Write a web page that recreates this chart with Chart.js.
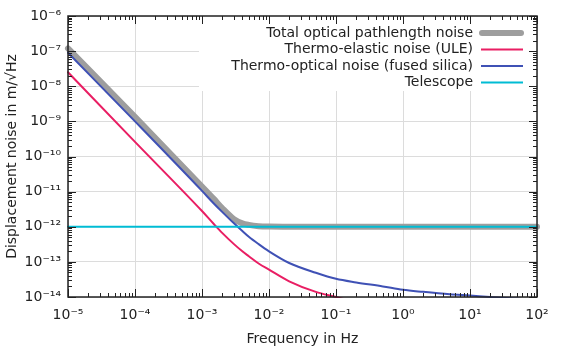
<!DOCTYPE html>
<html>
<head>
<meta charset="utf-8">
<script src="https://cdn.jsdelivr.net/npm/chart.js@4.4.0/dist/chart.umd.min.js"></script>
<style>
    html, body { margin: 0; padding: 0; background: #fff; }
    #wrap { position: relative; width: 561px; height: 351px; }
</style>
</head>
<body>
<div id="wrap"><canvas id="noiseChart" width="561" height="351"></canvas></div>
<script>
// 주파수 (Hz)
const freqs = [1e-5, 1e-4, 1e-3, 1.5e-3, 2e-3, 3e-3, 4e-3, 5e-3, 7e-3, 1e-2, 2e-2, 5e-2, 0.1, 0.2, 0.5, 1, 2, 5, 10, 20, 50, 100];

// 노이즈 (m/√Hz)
const totalNoise    = [1.2e-7, 1.35e-9, 1.4e-11, 6.2e-12, 3.4e-12, 1.65e-12, 1.25e-12, 1.13e-12, 1.04e-12, 1.01e-12, 1e-12, 1e-12, 1e-12, 1e-12, 1e-12, 1e-12, 1e-12, 1e-12, 1e-12, 1e-12, 1e-12, 1e-12];
const thermoElastic = [2.5e-8, 2.6e-10, 2.8e-12, 1.2e-12, 6.7e-13, 3.2e-13, 2.0e-13, 1.45e-13, 9e-14, 6e-14, 2.8e-14, 1.4e-14, 1.0e-14, 7e-15, null, null, null, null, null, null, null, null];
const thermoOptical = [9e-8, 1e-9, 1.05e-11, 4.6e-12, 2.65e-12, 1.25e-12, 7.6e-13, 5.2e-13, 3.2e-13, 2e-13, 9.3e-14, 4.9e-14, 3.3e-14, 2.6e-14, 2.0e-14, 1.6e-14, 1.4e-14, 1.2e-14, 1.1e-14, 1.0e-14, 9e-15, 8e-15];
const telescope     = [1e-12, 1e-12, 1e-12, 1e-12, 1e-12, 1e-12, 1e-12, 1e-12, 1e-12, 1e-12, 1e-12, 1e-12, 1e-12, 1e-12, 1e-12, 1e-12, 1e-12, 1e-12, 1e-12, 1e-12, 1e-12, 1e-12];

// 눈금
const xTicks = [1e-5, 1e-4, 1e-3, 1e-2, 1e-1, 1e0, 1e1, 1e2];
const yTicks = [1e-14, 1e-13, 1e-12, 1e-11, 1e-10, 1e-9, 1e-8, 1e-7, 1e-6];

const seriesNames = ['Total optical pathlength noise', 'Thermo-elastic noise (ULE)', 'Thermo-optical noise (fused silica)', 'Telescope'];
const seriesColors = ['#9e9e9e', '#e91e63', '#3f51b5', '#00bcd4'];

const FONT = '"DejaVu Sans", sans-serif';

function sup(v) {
    const e = Math.round(Math.log10(v));
    const map = { '-': '⁻', '0': '⁰', '1': '¹', '2': '²', '3': '³', '4': '⁴', '5': '⁵', '6': '⁶', '7': '⁷', '8': '⁸', '9': '⁹' };
    return '10' + String(e).split('').map(c => map[c]).join('');
}

function toPoints(arr) {
    return freqs.map((f, i) => ({ x: f, y: arr[i] }));
}

// 축 테두리, 안쪽 눈금, 범례
const framePlugin = {
    id: 'frame',
    beforeDatasetsDraw(chart) {
        const ctx = chart.ctx;
        const a = chart.chartArea;
        ctx.save();
        ctx.fillStyle = '#fff';
        ctx.fillRect(199, a.top, a.right - 199, 91 - a.top);
        ctx.restore();
    },
    afterDraw(chart) {
        const ctx = chart.ctx;
        const a = chart.chartArea;
        const xs = chart.scales.x, ys = chart.scales.y;
        ctx.save();
        ctx.strokeStyle = '#222';
        ctx.lineWidth = 1;
        ctx.beginPath();
        // x 눈금
        xTicks.forEach((v, i) => {
            const px = Math.round(xs.getPixelForValue(v)) + 0.5;
            ctx.moveTo(px, a.bottom); ctx.lineTo(px, a.bottom - 8);
            ctx.moveTo(px, a.top); ctx.lineTo(px, a.top + 8);
            if (i < xTicks.length - 1) {
                for (let m = 2; m <= 9; m++) {
                    const mx = Math.round(xs.getPixelForValue(v * m)) + 0.5;
                    ctx.moveTo(mx, a.bottom); ctx.lineTo(mx, a.bottom - 4);
                    ctx.moveTo(mx, a.top); ctx.lineTo(mx, a.top + 4);
                }
            }
        });
        // y 눈금
        yTicks.forEach((v, i) => {
            const py = Math.round(ys.getPixelForValue(v)) + 0.5;
            ctx.moveTo(a.left, py); ctx.lineTo(a.left + 8, py);
            ctx.moveTo(a.right, py); ctx.lineTo(a.right - 8, py);
            if (i < yTicks.length - 1) {
                for (let m = 2; m <= 9; m++) {
                    const my = Math.round(ys.getPixelForValue(v * m)) + 0.5;
                    ctx.moveTo(a.left, my); ctx.lineTo(a.left + 4, my);
                    ctx.moveTo(a.right, my); ctx.lineTo(a.right - 4, my);
                }
            }
        });
        ctx.stroke();
        ctx.lineWidth = 1.5;
        ctx.strokeRect(a.left, a.top, a.right - a.left, a.bottom - a.top);

        // 범례
        ctx.font = '14px ' + FONT;
        ctx.textAlign = 'right';
        ctx.textBaseline = 'middle';
        seriesNames.forEach((name, i) => {
            const y = 33 + i * 16.5;
            ctx.fillStyle = '#222';
            ctx.fillText(name, 473, y);
            ctx.strokeStyle = seriesColors[i];
            ctx.lineWidth = i === 0 ? 6 : 2;
            ctx.lineCap = i === 0 ? 'round' : 'butt';
            ctx.beginPath();
            ctx.moveTo(i === 0 ? 482 : 481, y);
            ctx.lineTo(i === 0 ? 521 : 523, y);
            ctx.stroke();
        });
        ctx.restore();
    }
};

document.addEventListener('DOMContentLoaded', function() {
    const ctx = document.getElementById('noiseChart');
    const widths = [6, 2, 2, 2];
    const orders = [4, 3, 2, 1];
    const arrays = [totalNoise, thermoElastic, thermoOptical, telescope];

    new Chart(ctx.getContext('2d'), {
        type: 'line',
        data: {
            datasets: arrays.map((arr, i) => ({
                label: seriesNames[i],
                data: toPoints(arr),
                borderColor: seriesColors[i],
                backgroundColor: seriesColors[i],
                borderWidth: widths[i],
                borderCapStyle: 'round',
                cubicInterpolationMode: 'monotone',
                pointRadius: 0,
                fill: false,
                order: orders[i],
                clip: (i === 0 || i === 3) ? false : 1
            }))
        },
        options: {
            responsive: false,
            animation: false,
            layout: { padding: { top: 16, right: 24, left: 0, bottom: 0 } },
            plugins: {
                legend: { display: false },
                tooltip: { enabled: false }
            },
            scales: {
                x: {
                    type: 'logarithmic',
                    min: 1e-5,
                    max: 1e2,
                    afterBuildTicks: s => { s.ticks = xTicks.map(v => ({ value: v, major: true })); },
                    afterFit: s => { s.height = 54; },
                    border: { display: false },
                    grid: { color: '#dcdcdc', lineWidth: 1, drawTicks: false },
                    ticks: {
                        callback: v => sup(v),
                        font: { family: FONT, size: 14 },
                        color: '#222',
                        padding: 10,
                        maxRotation: 0,
                        autoSkip: false
                    },
                    title: {
                        display: true,
                        text: 'Frequency in Hz',
                        font: { family: FONT, size: 14 },
                        color: '#222',
                        padding: { top: 0, bottom: 3.5 }
                    }
                },
                y: {
                    type: 'logarithmic',
                    min: 1e-14,
                    max: 1e-6,
                    afterBuildTicks: s => { s.ticks = yTicks.map(v => ({ value: v, major: true })); },
                    afterFit: s => { s.width = 68; },
                    border: { display: false },
                    grid: { color: '#dcdcdc', lineWidth: 1, drawTicks: false },
                    ticks: {
                        callback: v => sup(v),
                        font: { family: FONT, size: 14 },
                        color: '#222',
                        padding: 7,
                        autoSkip: false
                    },
                    title: {
                        display: true,
                        text: 'Displacement noise in m/√Hz',
                        font: { family: FONT, size: 14 },
                        color: '#222',
                        padding: { top: 3.5, bottom: 0 }
                    }
                }
            }
        },
        plugins: [framePlugin]
    });
});
</script>
</body>
</html>
